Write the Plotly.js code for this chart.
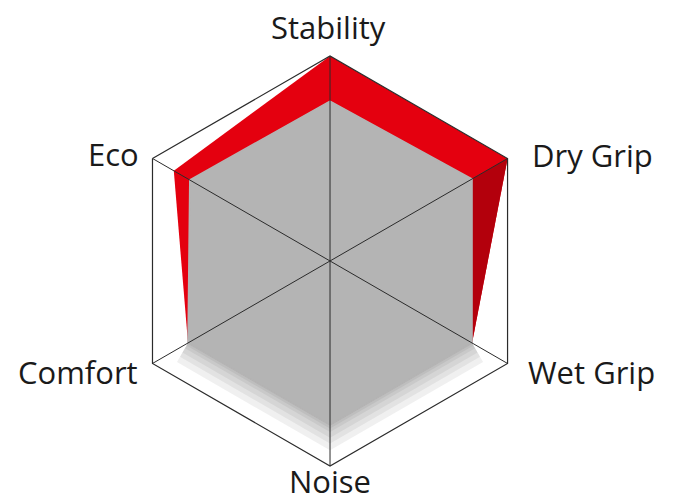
<!DOCTYPE html>
<html>
<head>
<meta charset="utf-8">
<script src="https://cdn.plot.ly/plotly-3.0.1.min.js"></script>
<style>html,body{margin:0;padding:0;background:#fff;}#chart{width:674px;height:504px;}</style>
</head>
<body>
<div id="chart"></div>
<script>
var categories = ['Stability', 'Dry Grip', 'Wet Grip', 'Noise', 'Comfort', 'Eco'];
var newTyre = [1.0, 1.0, 0.80, 0.80, 0.80, 0.88];
var oldTyre = [0.78, 0.80, 0.80, 0.80, 0.80, 0.79];
var maxValue = 1.0;

function closed(a) { return a.concat([a[0]]); }

var traces = [];
// red (new)
traces.push({
  type: 'scatterpolar', mode: 'lines', fill: 'toself',
  theta: closed(categories), r: closed(newTyre),
  fillcolor: '#e4000f', line: {width: 0, color: '#e4000f'}, hoverinfo: 'skip'
});
// darker right-hand face of red band (Dry Grip -> Wet Grip)
traces.push({
  type: 'scatterpolar', mode: 'lines', fill: 'toself',
  theta: [categories[1], categories[2], categories[1], categories[1]],
  r: [newTyre[1], newTyre[2], oldTyre[1], newTyre[1]],
  fillcolor: '#b3000c', line: {width: 0, color: '#b3000c'}, hoverinfo: 'skip'
});
// soft shadow under the lower edges of the gray polygon
[44, 32, 22, 12, 6].forEach(function (w) {
  traces.push({
    type: 'scatterpolar', mode: 'lines',
    theta: [categories[4], categories[3], categories[2]],
    r: [oldTyre[4], oldTyre[3], oldTyre[2]],
    line: {color: 'rgba(70,70,70,0.08)', width: w}, hoverinfo: 'skip'
  });
});
// gray (old)
traces.push({
  type: 'scatterpolar', mode: 'lines', fill: 'toself',
  theta: closed(categories), r: closed(oldTyre),
  fillcolor: '#b4b4b4', line: {width: 1.5, color: '#b4b4b4'}, hoverinfo: 'skip'
});
// spokes
categories.forEach(function (c) {
  traces.push({
    type: 'scatterpolar', mode: 'lines',
    theta: [c, c], r: [0, maxValue],
    line: {color: '#2b2b2b', width: 1}, hoverinfo: 'skip'
  });
});

var labelFont = {family: 'Open Sans, Noto Sans, sans-serif', size: 31, color: '#1a1a1a'};
// label placement: [x, y, xanchor, yanchor] in paper fractions
var labelPlace = [
  [0.488, 0.946, 'center', 'middle'],
  [0.786, 0.6925, 'left', 'middle'],
  [0.781, 0.262, 'left', 'middle'],
  [0.490, 0.000, 'center', 'bottom'],
  [0.207, 0.262, 'right', 'middle'],
  [0.209, 0.694, 'right', 'middle']
];
var annotations = categories.map(function (c, i) {
  var p = labelPlace[i];
  return {text: c, xref: 'paper', yref: 'paper', x: p[0], y: p[1],
          xanchor: p[2], yanchor: p[3], showarrow: false, font: labelFont};
});

var layout = {
  width: 674, height: 504,
  margin: {l: 0, r: 0, t: 0, b: 0},
  paper_bgcolor: '#ffffff',
  showlegend: false,
  annotations: annotations,
  polar: {
    domain: {x: [0.1855, 0.7938], y: [0.0754, 0.889]},
    bgcolor: 'rgba(0,0,0,0)',
    gridshape: 'linear',
    radialaxis: {visible: false, range: [0, maxValue], showgrid: false},
    angularaxis: {
      type: 'category', categoryarray: categories,
      rotation: 90, direction: 'clockwise',
      showgrid: false, showline: true, linecolor: '#2b2b2b', linewidth: 1.2,
      ticks: '', showticklabels: false, layer: 'above traces'
    }
  }
};

Plotly.newPlot('chart', traces, layout, {displayModeBar: false, staticPlot: true});
</script>
</body>
</html>
